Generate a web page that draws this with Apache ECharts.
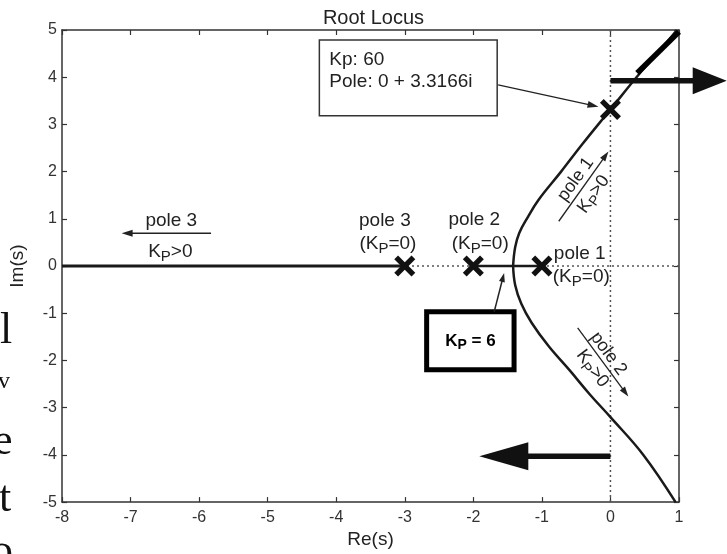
<!DOCTYPE html>
<html>
<head>
<meta charset="utf-8">
<script src="https://cdn.jsdelivr.net/npm/echarts@6/dist/echarts.min.js"></script>
<style>html,body{margin:0;padding:0;background:#fff;}#main{width:727px;height:554px;}</style>
</head>
<body>
<div id="main"></div>
<script>
// ---- data ----
const xTicks = [-8,-7,-6,-5,-4,-3,-2,-1,0,1];
const yTicks = [-5,-4,-3,-2,-1,0,1,2,3,4,5];
const openLoopPoles = [[-3,0],[-2,0],[-1,0]];
const kp60Pole = [[0,3.3166]];
const realAxisLeft = [[-8,0],[-3,0]];
const realAxisMid = [[-2,0],[-1.42,0],[-1,0]];
const upperBranch = [[-1.42,0],[-1.39,0.4],[-1.33,0.7],[-1.22,1.0],[-1.05,1.4],[-0.72,2.0],[-0.40,2.6],[0,3.3166],[0.38,4.0],[0.68,4.5],[0.97,5.0]];
const lowerBranch = [[-1.42,0],[-1.39,-0.4],[-1.30,-0.8],[-1.15,-1.2],[-0.90,-1.7],[-0.60,-2.2],[-0.30,-2.72],[0,-3.2],[0.48,-4.0],[0.95,-5.0]];
const upperOverlay = [[0.39,4.09],[1.0,4.96]];
const zeroLineH = [[-8,0],[1,0]];
const zeroLineV = [[0,-5],[0,5]];

const FONT = 'Liberation Sans, Arial, sans-serif';
const XMARK = 'path://M0,1.8L1.8,0L5,3.2L8.2,0L10,1.8L6.8,5L10,8.2L8.2,10L5,6.8L1.8,10L0,8.2L3.2,5Z';
const INK = '#1a1a1a';

function lineSeries(data, width, type, color, extra) {
  return Object.assign({
    type: 'line', data: data, symbol: 'none', silent: true, animation: false,
    lineStyle: { width: width, type: type, color: color }
  }, extra || {});
}

const axisCommon = {
  type: 'value', min: 0, max: 0, interval: 1,
  axisLine: { show: true, onZero: false, lineStyle: { color: '#333', width: 1.5 } },
  axisTick: { show: true, inside: true, length: 5, lineStyle: { color: '#333', width: 1.2 } },
  splitLine: { show: false }
};

const option = {
  animation: false,
  backgroundColor: '#fff',
  title: {
    text: 'Root Locus', left: 368.5, textAlign: 'center', top: 3,
    textStyle: { fontFamily: FONT, fontSize: 20, fontWeight: 'normal', color: '#222' }
  },
  grid: { left: 58, right: 48, top: 30, bottom: 50 },
  xAxis: [
    Object.assign({}, axisCommon, { min: xTicks[0], max: xTicks[xTicks.length-1], position: 'bottom',
      name: 'Re(s)', nameLocation: 'middle', nameGap: 26,
      nameTextStyle: { fontFamily: FONT, fontSize: 19, color: '#222' },
      axisLabel: { show: true, fontFamily: FONT, fontSize: 16, color: '#333', margin: 7 } }),
    Object.assign({}, axisCommon, { min: xTicks[0], max: xTicks[xTicks.length-1], position: 'top',
      axisLabel: { show: false } })
  ],
  yAxis: [
    Object.assign({}, axisCommon, { min: yTicks[0], max: yTicks[yTicks.length-1], position: 'left',
      name: 'Im(s)', nameLocation: 'middle', nameGap: 35,
      nameTextStyle: { fontFamily: FONT, fontSize: 19, color: '#222' },
      axisLabel: { show: true, fontFamily: FONT, fontSize: 16, color: '#333', margin: 5 } }),
    Object.assign({}, axisCommon, { min: yTicks[0], max: yTicks[yTicks.length-1], position: 'right',
      axisLabel: { show: false } })
  ],
  series: [
    lineSeries(zeroLineH, 1.5, [2, 3], '#555'),
    lineSeries(zeroLineV, 1.5, [2, 3], '#555'),
    lineSeries(realAxisLeft, 3, 'solid', INK),
    lineSeries(realAxisMid, 2.5, 'solid', INK),
    lineSeries(upperBranch, 2.5, 'solid', INK, { smooth: 0.4 }),
    lineSeries(lowerBranch, 2.5, 'solid', INK, { smooth: 0.4 }),
    lineSeries(upperOverlay, 5.5, 'solid', '#000'),
    { type: 'scatter', data: openLoopPoles, symbol: XMARK, symbolSize: 21, silent: true,
      itemStyle: { color: '#111', opacity: 1 }, z: 5 },
    { type: 'scatter', data: kp60Pole, symbol: XMARK, symbolSize: 21, silent: true,
      itemStyle: { color: '#111', opacity: 1 }, z: 5 }
  ]
};

const chart = echarts.init(document.getElementById('main'), null, { renderer: 'canvas' });
chart.setOption(option);

// ---- annotations, positioned through the chart's own scales ----
const P = (x, y) => chart.convertToPixel({ xAxisIndex: 0, yAxisIndex: 0 }, [x, y]);

function arrow(a, b, width, headLen, headHalf, color) {
  const p1 = P(a[0], a[1]), p2 = P(b[0], b[1]);
  const dx = p2[0] - p1[0], dy = p2[1] - p1[1];
  const len = Math.sqrt(dx*dx + dy*dy), ux = dx/len, uy = dy/len;
  const bx = p2[0] - ux*headLen, by = p2[1] - uy*headLen;
  return [
    { type: 'polyline', shape: { points: [p1, [bx + ux*1, by + uy*1]] }, style: { stroke: color, lineWidth: width, fill: null }, z: 20 },
    { type: 'polygon', shape: { points: [[bx - uy*headHalf, by + ux*headHalf], p2, [bx + uy*headHalf, by - ux*headHalf]] }, style: { fill: color }, z: 20 }
  ];
}
function text(pos, str, opts) {
  const p = P(pos[0], pos[1]);
  const o = opts || {};
  return {
    type: 'text', x: p[0], y: p[1], rotation: (o.rot || 0) * Math.PI / 180, z: 21,
    style: {
      x: 0, y: 0, text: str, align: o.align || 'center', verticalAlign: 'middle',
      font: (o.weight || 'normal') + ' ' + (o.size || 19) + 'px ' + FONT, fill: o.color || '#222',
      rich: o.rich
    }
  };
}
function rect(a, b, lw, color) {
  const p1 = P(a[0], a[1]), p2 = P(b[0], b[1]);
  return { type: 'rect', shape: { x: p1[0], y: p1[1], width: p2[0]-p1[0], height: p2[1]-p1[1] },
    style: { fill: '#fff', stroke: color, lineWidth: lw }, z: 18 };
}
const sub = (size, shift, weight) => ({
  n: { fontSize: size, fontFamily: FONT, fontWeight: weight || 'normal', fill: weight ? '#000' : '#222' },
  s: { fontSize: Math.round(size*0.8), fontFamily: FONT, fontWeight: weight || 'normal', fill: weight ? '#000' : '#222', padding: [shift, 0, 0, 0] }
});

const g = [];
// Kp 60 data-tip box
g.push(rect([-4.246, 4.79], [-1.652, 3.186], 1.5, '#333'));
g.push(text([-4.10, 4.367], 'Kp: 60', { align: 'left' }));
g.push(text([-4.10, 3.903], 'Pole: 0 + 3.3166i', { align: 'left' }));
g.push(...arrow([-1.638, 3.84], [-0.174, 3.376], 1.3, 11, 3.5, '#222'));
// pole 3 moving left
g.push(text([-6.406, 0.949], 'pole 3'));
g.push(...arrow([-5.826, 0.696], [-7.13, 0.696], 1.5, 11, 3.5, '#222'));
g.push(text([-6.42, 0.30], '{n|K}{s|P}{n|>0}', { rich: sub(19, 10) }));
// open-loop pole labels
g.push(text([-3.29, 0.949], 'pole 3'));
g.push(text([-3.246, 0.464], '{n|(K}{s|P}{n|=0)}', { rich: sub(19, 10) }));
g.push(text([-1.986, 0.970], 'pole 2'));
g.push(text([-1.899, 0.464], '{n|(K}{s|P}{n|=0)}', { rich: sub(19, 10) }));
g.push(text([-0.826, 0.253], 'pole 1', { align: 'left' }));
g.push(text([-0.841, -0.232], '{n|(K}{s|P}{n|=0)}', { align: 'left', rich: sub(19, 10) }));
// branch direction labels
g.push(...arrow([-0.754, 0.949], [-0.029, 2.426], 1.3, 10, 3.2, '#222'));
g.push(text([-0.507, 1.835], 'pole 1', { rot: 54.5, size: 18 }));
g.push(text([-0.246, 1.519], '{n|K}{s|P}{n|>0}', { rot: 54.5, rich: sub(18, 10) }));
g.push(...arrow([-0.478, -1.308], [0.261, -2.764], 1.3, 10, 3.2, '#222'));
g.push(text([-0.029, -1.857], 'pole 2', { rot: -53.5, size: 18 }));
g.push(text([-0.261, -2.173], '{n|K}{s|P}{n|>0}', { rot: -53.5, rich: sub(18, 10) }));
// Kp = 6 box
g.push(rect([-2.681, -0.970], [-1.406, -2.194], 5, '#000'));
g.push(text([-2.043, -1.60], '{n|K}{s|P}{n| = 6}', { rich: sub(17, 7, 'bold') }));
g.push(...arrow([-1.696, -0.970], [-1.551, -0.148], 1.5, 9, 3, '#222'));
// thick arrows
g.push(...arrow([0, 3.924], [1.696, 3.924], 5.5, 34, 13.5, '#111'));
g.push(...arrow([0, -4.03], [-1.913, -4.03], 5.5, 49, 14, '#111'));
// cropped page text at the left edge
const serif = (x, y, s, size) => ({ type: 'text', x: x, y: y, z: 22,
  style: { text: s, font: (size || 44) + 'px Liberation Serif, Times New Roman, serif', fill: '#111', align: 'left', verticalAlign: 'top' } });
g.push(serif(0, 309, 'l'));
g.push(serif(-2, 370, 'v', 24));
g.push(serif(-7, 420, 'e'));
g.push(serif(-1, 477, 't'));
g.push(serif(-9, 530, 'o'));

chart.setOption({ graphic: { elements: g } });
</script>
</body>
</html>
